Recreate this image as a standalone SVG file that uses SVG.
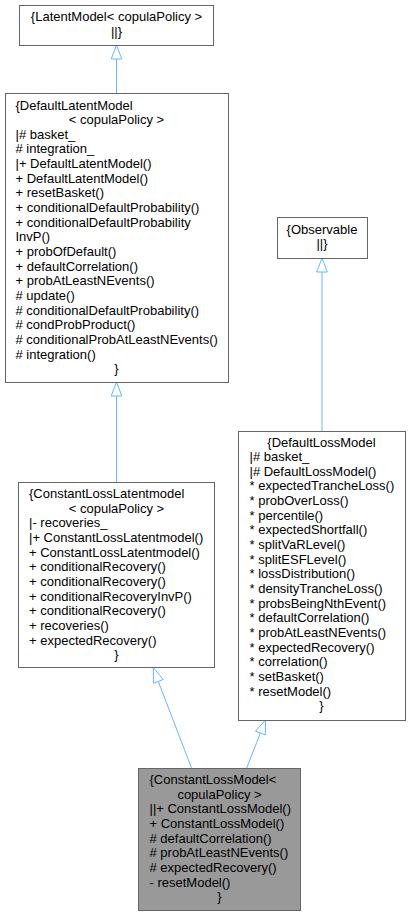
<svg xmlns="http://www.w3.org/2000/svg" width="411" height="916" viewBox="0 0 411 916">
<style>
.box{fill:#ffffff;stroke:#666666;stroke-width:1}
.hl{fill:#999999;stroke:#666666;stroke-width:1}
text{font-family:"Liberation Sans",Arial,sans-serif;font-size:13px;fill:#000000}
.c{text-anchor:middle}
.edge{fill:none;stroke:#63b8ff;stroke-width:1}
.head{fill:#ffffff;stroke:#63b8ff;stroke-width:1}
</style>
<rect width="411" height="916" fill="#ffffff"/>
<g id="connectors">
<line class="edge" x1="116.5" y1="93" x2="116.5" y2="59"/>
<polygon class="head" points="116.5,45 111.2,59 121.8,59"/>
<line class="edge" x1="116.5" y1="482" x2="116.5" y2="396"/>
<polygon class="head" points="116.5,382 111.2,396 121.8,396"/>
<line class="edge" x1="322" y1="431" x2="322" y2="272"/>
<polygon class="head" points="322,258 316.7,272 327.3,272"/>
<line class="edge" x1="191.5" y1="768" x2="158.3" y2="681.4"/>
<polygon class="head" points="153.3,667.5 163.2,679.5 153.4,683.3"/>
<line class="edge" x1="246.7" y1="768" x2="260.4" y2="733"/>
<polygon class="head" points="265.5,720 265.3,734.9 255.5,731.1"/>
</g>
<g id="LatentModel">
<rect class="box" x="19.5" y="5.5" width="194" height="40"/>
<text class="c" x="116.5" y="21">{LatentModel&lt; copulaPolicy &gt;</text>
<text class="c" x="116.5" y="35.65">||}</text>
</g>
<g id="DefaultLatentModel">
<rect class="box" x="5.5" y="93.5" width="223" height="289"/>
<text x="15.5" y="109.5">{DefaultLatentModel</text>
<text class="c" x="116.5" y="124.15">&lt; copulaPolicy &gt;</text>
<text x="15.5" y="138.8">|# basket_</text>
<text x="15.5" y="153.45"># integration_</text>
<text x="15.5" y="168.1">|+ DefaultLatentModel()</text>
<text x="15.5" y="182.75">+ DefaultLatentModel()</text>
<text x="15.5" y="197.4">+ resetBasket()</text>
<text x="15.5" y="212.05">+ conditionalDefaultProbability()</text>
<text x="15.5" y="226.7">+ conditionalDefaultProbability</text>
<text x="15.5" y="241.35">InvP()</text>
<text x="15.5" y="256">+ probOfDefault()</text>
<text x="15.5" y="270.65">+ defaultCorrelation()</text>
<text x="15.5" y="285.3">+ probAtLeastNEvents()</text>
<text x="15.5" y="299.95"># update()</text>
<text x="15.5" y="314.6"># conditionalDefaultProbability()</text>
<text x="15.5" y="329.25"># condProbProduct()</text>
<text x="15.5" y="343.9"># conditionalProbAtLeastNEvents()</text>
<text x="15.5" y="358.55"># integration()</text>
<text class="c" x="116.5" y="373.2">}</text>
</g>
<g id="Observable">
<rect class="box" x="277.5" y="217.5" width="90" height="41"/>
<text class="c" x="322" y="233.5">{Observable</text>
<text class="c" x="322" y="248.15">||}</text>
</g>
<g id="DefaultLossModel">
<rect class="box" x="238.5" y="431.5" width="167" height="289"/>
<text class="c" x="321.5" y="446.5">{DefaultLossModel</text>
<text x="249.5" y="461.15">|# basket_</text>
<text x="249.5" y="475.8">|# DefaultLossModel()</text>
<text x="249.5" y="490.45">* expectedTrancheLoss()</text>
<text x="249.5" y="505.1">* probOverLoss()</text>
<text x="249.5" y="519.75">* percentile()</text>
<text x="249.5" y="534.4">* expectedShortfall()</text>
<text x="249.5" y="549.05">* splitVaRLevel()</text>
<text x="249.5" y="563.7">* splitESFLevel()</text>
<text x="249.5" y="578.35">* lossDistribution()</text>
<text x="249.5" y="593">* densityTrancheLoss()</text>
<text x="249.5" y="607.65">* probsBeingNthEvent()</text>
<text x="249.5" y="622.3">* defaultCorrelation()</text>
<text x="249.5" y="636.95">* probAtLeastNEvents()</text>
<text x="249.5" y="651.6">* expectedRecovery()</text>
<text x="249.5" y="666.25">* correlation()</text>
<text x="249.5" y="680.9">* setBasket()</text>
<text x="249.5" y="695.55">* resetModel()</text>
<text class="c" x="321.5" y="710.2">}</text>
</g>
<g id="ConstantLossLatentmodel">
<rect class="box" x="18.5" y="482.5" width="196" height="185"/>
<text x="29" y="498">{ConstantLossLatentmodel</text>
<text class="c" x="116.5" y="512.65">&lt; copulaPolicy &gt;</text>
<text x="29" y="527.3">|- recoveries_</text>
<text x="29" y="541.95">|+ ConstantLossLatentmodel()</text>
<text x="29" y="556.6">+ ConstantLossLatentmodel()</text>
<text x="29" y="571.25">+ conditionalRecovery()</text>
<text x="29" y="585.9">+ conditionalRecovery()</text>
<text x="29" y="600.55">+ conditionalRecoveryInvP()</text>
<text x="29" y="615.2">+ conditionalRecovery()</text>
<text x="29" y="629.85">+ recoveries()</text>
<text x="29" y="644.5">+ expectedRecovery()</text>
<text class="c" x="116.5" y="659.15">}</text>
</g>
<g id="ConstantLossModel">
<rect class="hl" x="138.5" y="768.5" width="162" height="142"/>
<text x="149.5" y="784">{ConstantLossModel&lt;</text>
<text class="c" x="219.5" y="798.65">copulaPolicy &gt;</text>
<text x="149.5" y="813.3">||+ ConstantLossModel()</text>
<text x="149.5" y="827.95">+ ConstantLossModel()</text>
<text x="149.5" y="842.6"># defaultCorrelation()</text>
<text x="149.5" y="857.25"># probAtLeastNEvents()</text>
<text x="149.5" y="871.9"># expectedRecovery()</text>
<text x="149.5" y="886.55">- resetModel()</text>
<text class="c" x="219.5" y="901.2">}</text>
</g>
</svg>
